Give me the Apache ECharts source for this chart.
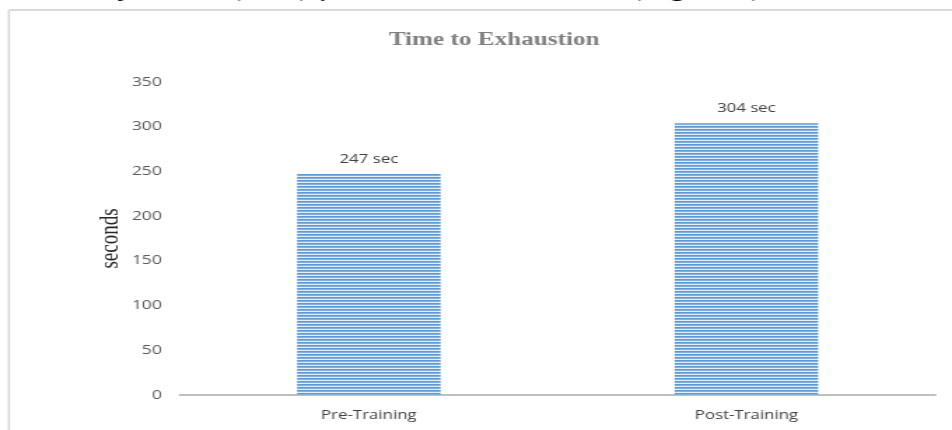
<!DOCTYPE html>
<html>
<head>
<meta charset="utf-8">
<script src="https://cdn.jsdelivr.net/npm/echarts@6/dist/echarts.min.js"></script>
<style>
  html, body { margin: 0; padding: 0; background: #fff; overflow: hidden; }
  /* the figure is laid out narrow and widened horizontally, like the embedded image */
  #chart { width: 680px; height: 430px; transform: scaleX(1.4); transform-origin: 0 0; }
</style>
</head>
<body>
<div id="chart"></div>
<script>
// Time to exhaustion before and after the training programme
const categories = ['Pre-Training', 'Post-Training'];
const seconds = [247, 304];
const yTicks = [0, 50, 100, 150, 200, 250, 300, 350];

// Narrow horizontal stripe fill for the bars
function stripePattern() {
  const c = document.createElement('canvas');
  c.width = 4; c.height = 3;
  const g = c.getContext('2d');
  g.fillStyle = '#5b9bd5'; g.fillRect(0, 0, 4, 1);
  g.fillStyle = '#7fb0de'; g.fillRect(0, 1, 4, 1);
  g.fillStyle = '#e4eef8'; g.fillRect(0, 2, 4, 1);
  return c;
}

const chart = echarts.init(document.getElementById('chart'), null, { renderer: 'canvas', width: 680, height: 430 });
chart.setOption({
  animation: false,
  backgroundColor: '#fff',
  title: {
    text: 'Time to Exhaustion',
    left: 348, top: 26, textAlign: 'center',
    textStyle: { fontFamily: 'Liberation Serif', fontWeight: 'bold', fontSize: 18, color: '#808080' }
  },
  graphic: [
    // running text of the page above the figure, cut by the top edge
    { type: 'text', right: 128, top: -22,
      style: { text: 'increased by 57 sec (23%) from 247 sec to 304 sec (Figure 3).',
               font: 'italic 23px "Liberation Serif"', fill: '#000' } },
    // chart frame
    { type: 'line', shape: { x1: 6.4, y1: 10, x2: 680, y2: 10 }, style: { stroke: '#d9d9d9', lineWidth: 2 } },
    { type: 'line', shape: { x1: 6.4, y1: 10, x2: 6.4, y2: 430 }, style: { stroke: '#d9d9d9', lineWidth: 1.6 } }
  ],
  grid: { left: 128.6, right: 12, top: 82, bottom: 35 },
  xAxis: {
    type: 'category',
    data: categories,
    axisLine: { lineStyle: { color: '#bfbfbf', width: 2 } },
    axisTick: { show: false },
    axisLabel: { margin: 15, fontFamily: 'Open Sans', fontSize: 12, color: '#404040' }
  },
  yAxis: {
    type: 'value',
    min: yTicks[0], max: yTicks[yTicks.length - 1], interval: 50,
    name: 'seconds',
    nameLocation: 'middle',
    nameGap: 40,
    nameMoveOverlap: false,
    nameTextStyle: { fontFamily: 'Liberation Serif', fontSize: 19, color: '#262626' },
    axisLine: { show: false },
    axisTick: { show: false },
    splitLine: { show: false },
    axisLabel: { margin: 13, fontFamily: 'Open Sans', fontSize: 12.5, color: '#595959' }
  },
  series: [{
    type: 'bar',
    data: seconds,
    barWidth: '38%',
    itemStyle: { color: { image: stripePattern(), repeat: 'repeat' } },
    label: {
      show: true, position: 'top', distance: 9,
      formatter: p => p.value + ' sec',
      fontFamily: 'Open Sans', fontSize: 12, color: '#404040'
    }
  }]
});
</script>
</body>
</html>
